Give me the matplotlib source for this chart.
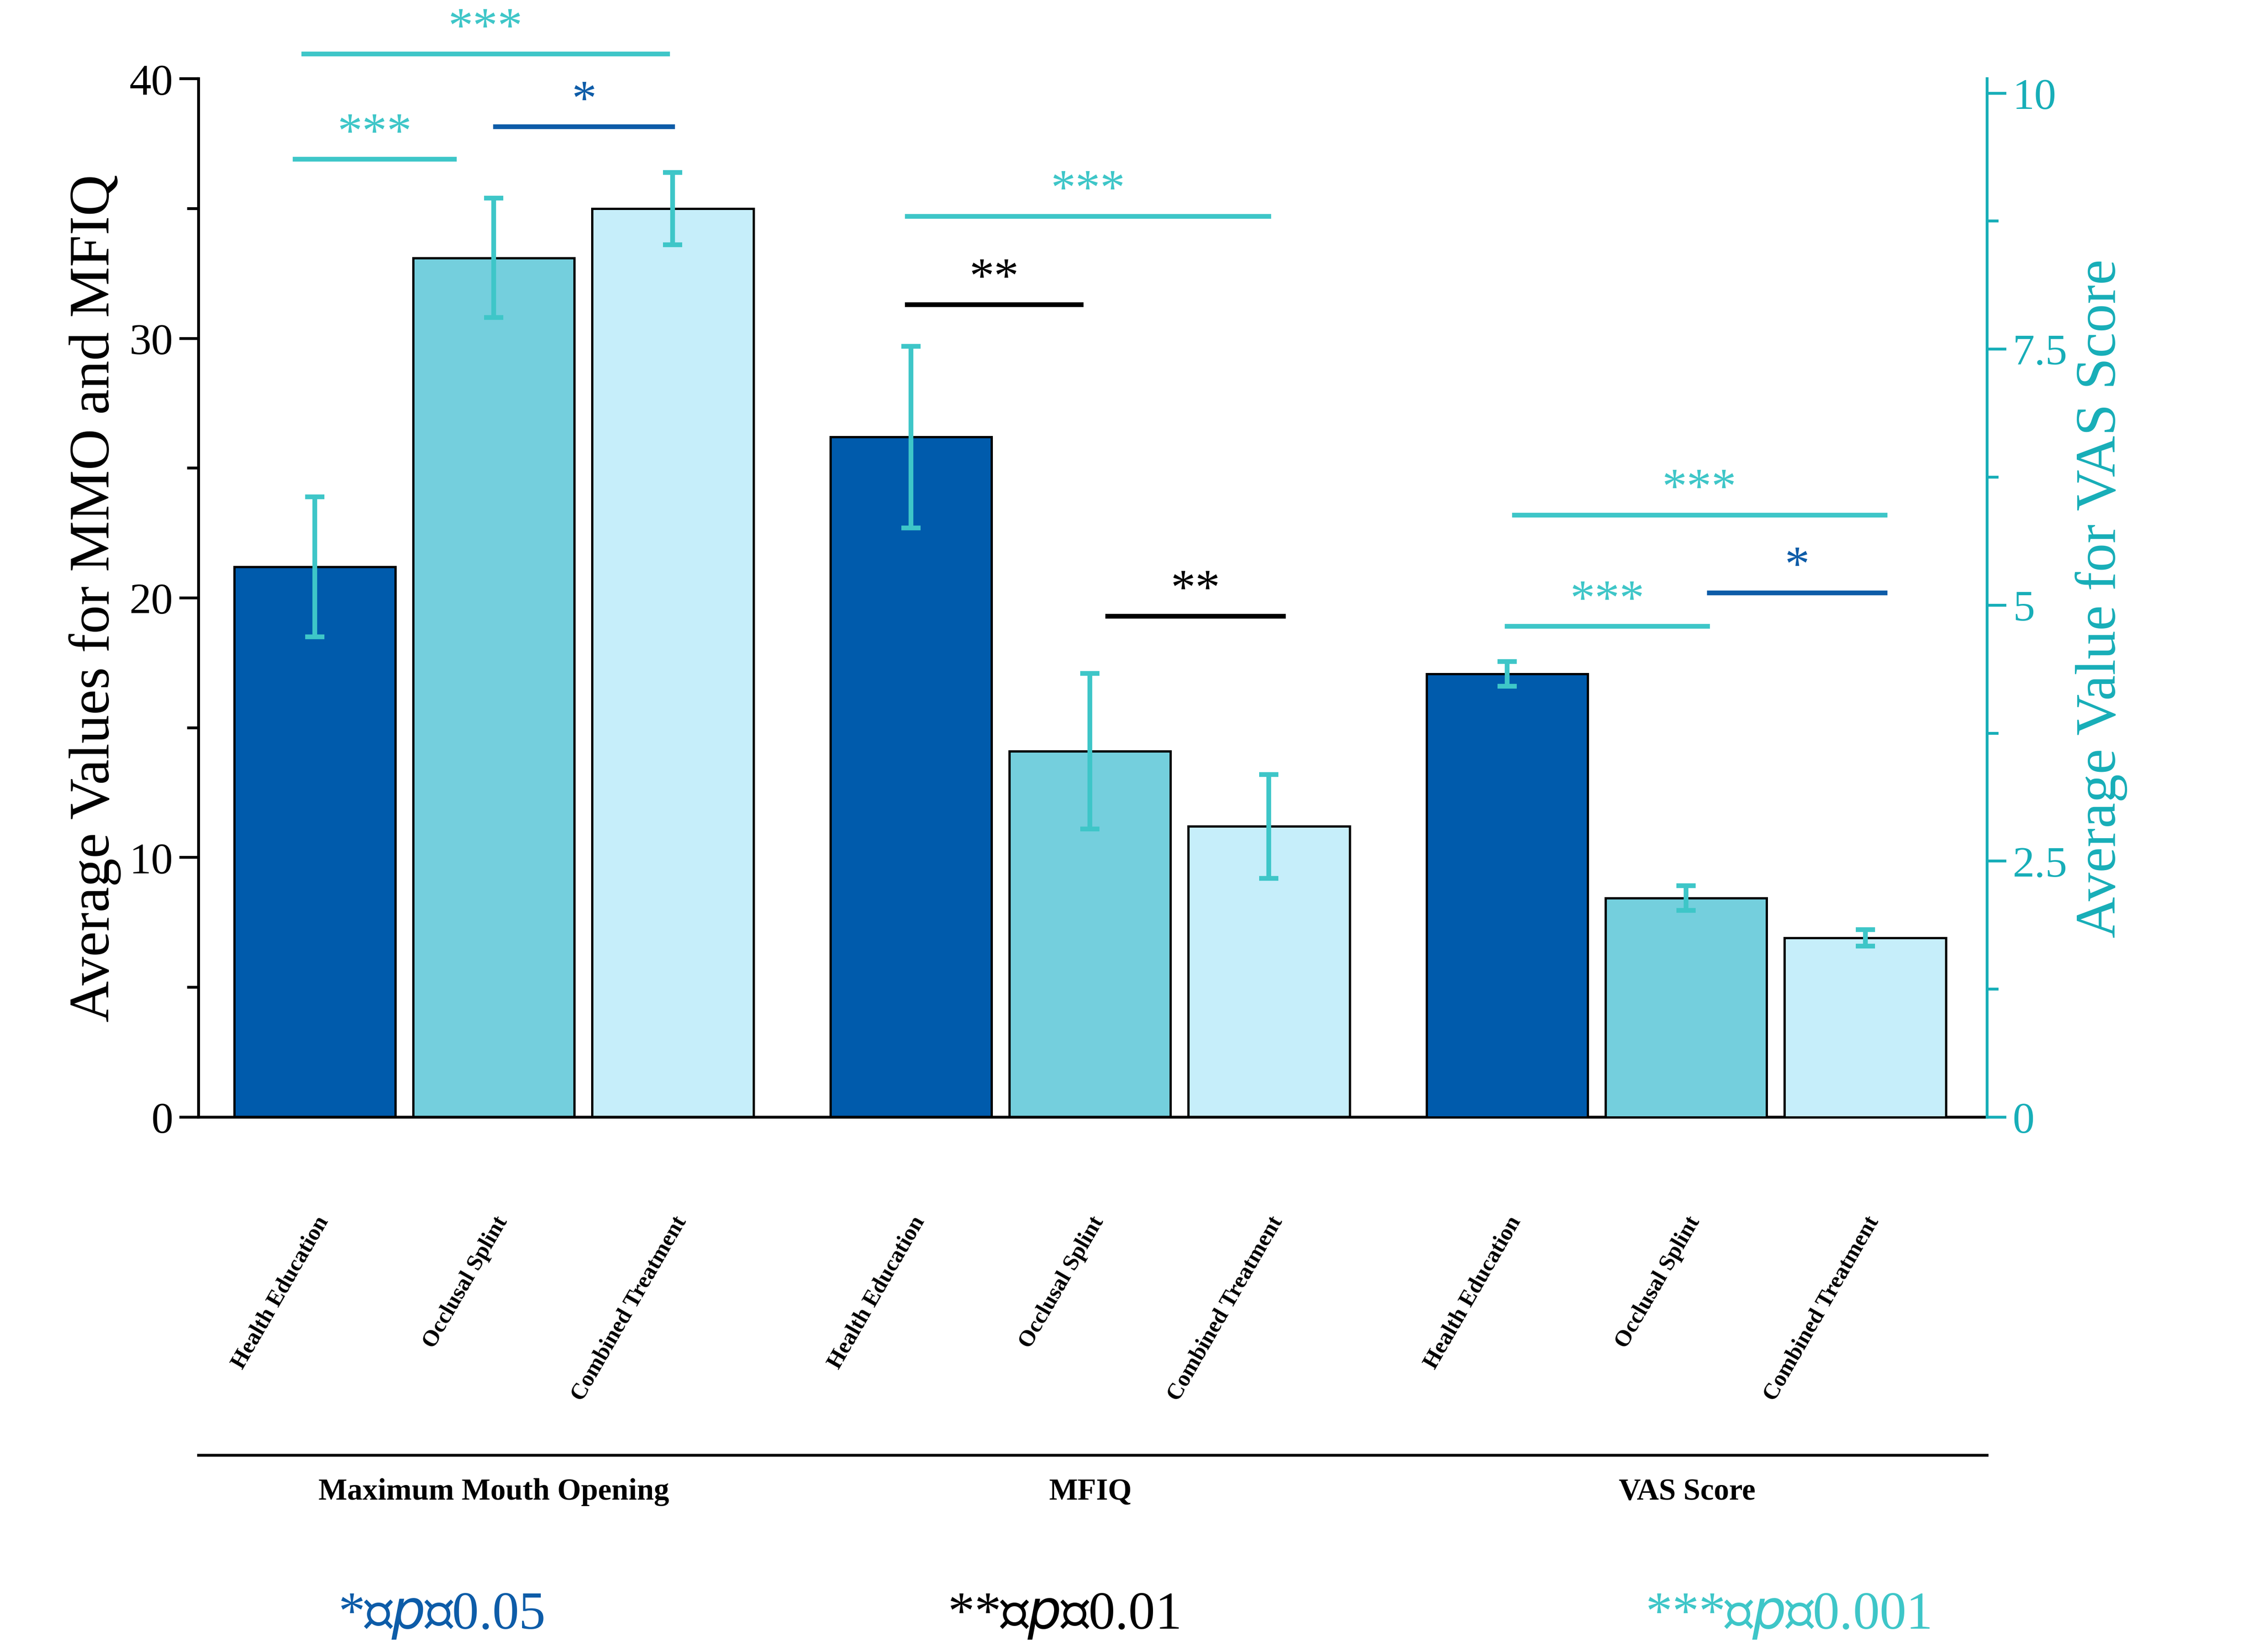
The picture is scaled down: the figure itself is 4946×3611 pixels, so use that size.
import matplotlib
matplotlib.use("Agg")
from matplotlib import pyplot as plt
from matplotlib.ticker import MultipleLocator, FixedLocator

plt.rcParams["font.family"] = ["Liberation Serif", "DejaVu Serif"]

groups = ["Maximum Mouth Opening", "MFIQ", "VAS Score"]
treatments = ["Health Education", "Occlusal Splint", "Combined Treatment"]
mmo_mean = [21.2, 33.1, 35.0]
mmo_err = [2.7, 2.3, 1.4]
mfiq_mean = [26.2, 14.1, 11.2]
mfiq_err = [3.5, 3.0, 2.0]
vas_mean = [4.33, 2.14, 1.75]
vas_err = [0.12, 0.12, 0.08]

bar_colors = ["#005BAC", "#74CFDD", "#C6EEFA"]
err_color = "#3EC6C8"
teal = "#3EC6C8"
blue = "#0D5CA8"
axis_teal = "#17AEB8"

# significance: (x1, x2, y on left axis, text, colour)
sig_lines = [
    (-0.06, 1.97, 40.95, "***", teal),
    (-0.11, 0.78, 36.9, "***", teal),
    (1.01, 2.0, 38.15, "*", blue),
    (3.31, 5.33, 34.7, "***", teal),
    (3.31, 4.28, 31.3, "**", "black"),
    (4.43, 5.41, 19.3, "**", "black"),
    (6.70, 8.77, 23.2, "***", teal),
    (6.66, 7.78, 18.9, "***", teal),
    (7.79, 8.77, 20.2, "*", blue),
]

fig = plt.figure(figsize=(4946 / 300, 3612 / 300), dpi=300)
ax = fig.add_axes([0.0878, 0.3237, 0.7902, 0.6283])
ax2 = ax.twinx()

offsets = [0, 3.33, 6.66]
width = 0.9
for g, (means, errs) in enumerate([(mmo_mean, mmo_err), (mfiq_mean, mfiq_err)]):
    xs = [offsets[g] + i for i in range(3)]
    ax.bar(xs, means, width, color=bar_colors, edgecolor="black", linewidth=1.2, zorder=2)
    ax.errorbar(xs, means, yerr=errs, fmt="none", ecolor=err_color, elinewidth=2.5,
                capsize=5, capthick=2.5, zorder=3)
xs = [offsets[2] + i for i in range(3)]
ax2.bar(xs, vas_mean, width, color=bar_colors, edgecolor="black", linewidth=1.2, zorder=2)
ax2.errorbar(xs, vas_mean, yerr=vas_err, fmt="none", ecolor=err_color, elinewidth=2.5,
             capsize=5, capthick=2.5, zorder=3)

ax.set_xlim(-0.648, 9.34)
ax.set_ylim(0, 40)
ax2.set_ylim(0, 10.14)

ax.yaxis.set_major_locator(MultipleLocator(10))
ax.yaxis.set_minor_locator(MultipleLocator(5))
ax.tick_params(axis="y", which="major", length=10, width=1.5, labelsize=23)
ax.tick_params(axis="y", which="minor", length=6, width=1.5)
ax.set_ylabel("Average Values for MMO and MFIQ", fontsize=30)

ax2.yaxis.set_major_locator(FixedLocator([0, 2.5, 5, 7.5, 10]))
ax2.set_yticklabels(["0", "2.5", "5", "7.5", "10"])
ax2.yaxis.set_minor_locator(MultipleLocator(1.25))
ax2.tick_params(axis="y", which="major", length=10, width=1.5, labelsize=23,
                colors=axis_teal)
ax2.tick_params(axis="y", which="minor", length=6, width=1.5, colors=axis_teal)
ax2.set_ylabel("Average Value for VAS Score", fontsize=30, color=axis_teal)

for a in (ax, ax2):
    a.spines["top"].set_visible(False)
ax.spines["right"].set_visible(False)
ax2.spines["left"].set_visible(False)
ax2.spines["bottom"].set_visible(False)
ax2.spines["right"].set_color(axis_teal)
ax2.spines["right"].set_linewidth(1.5)
ax.spines["left"].set_linewidth(1.5)
ax.spines["bottom"].set_linewidth(1.5)

allx = [offsets[g] + i for g in range(3) for i in range(3)]
ax.set_xticks(allx)
ax.set_xticklabels(treatments * 3, rotation=60, ha="right", rotation_mode="anchor",
                   fontsize=12, fontweight="bold")
ax.tick_params(axis="x", length=0, pad=50)

for x1, x2, y, txt, c in sig_lines:
    ax.plot([x1, x2], [y, y], color=c, lw=2.5, clip_on=False, zorder=4)
    ax.text((x1 + x2) / 2, y + 0.1, txt, color=c, ha="center", va="bottom",
            fontsize=26, clip_on=False)

# group line and labels
fig.add_artist(plt.Line2D([0.0878, 0.878], [0.119 + 0.0, 0.119 + 0.0], color="black", lw=1.5))
for g, name in enumerate(groups):
    xc = (217 + 123.5 * (offsets[g] + 1)) / 1560
    fig.text(xc, 0.097, name, ha="center", va="center", fontsize=16, fontweight="bold")

legend_items = [(0.195, "*", blue, "0.05"), (0.47, "**", "black", "0.01"),
                (0.79, "***", teal, "0.001")]
for xc, star, c, p in legend_items:
    fig.text(xc, 0.022, star + "\uff1a$\\it{p}$\uff1c" + p, color=c, ha="center",
             va="center", fontsize=28,
             family=["Liberation Serif", "Noto Sans CJK SC", "DejaVu Serif"])

fig.savefig("out.png", dpi=300)
